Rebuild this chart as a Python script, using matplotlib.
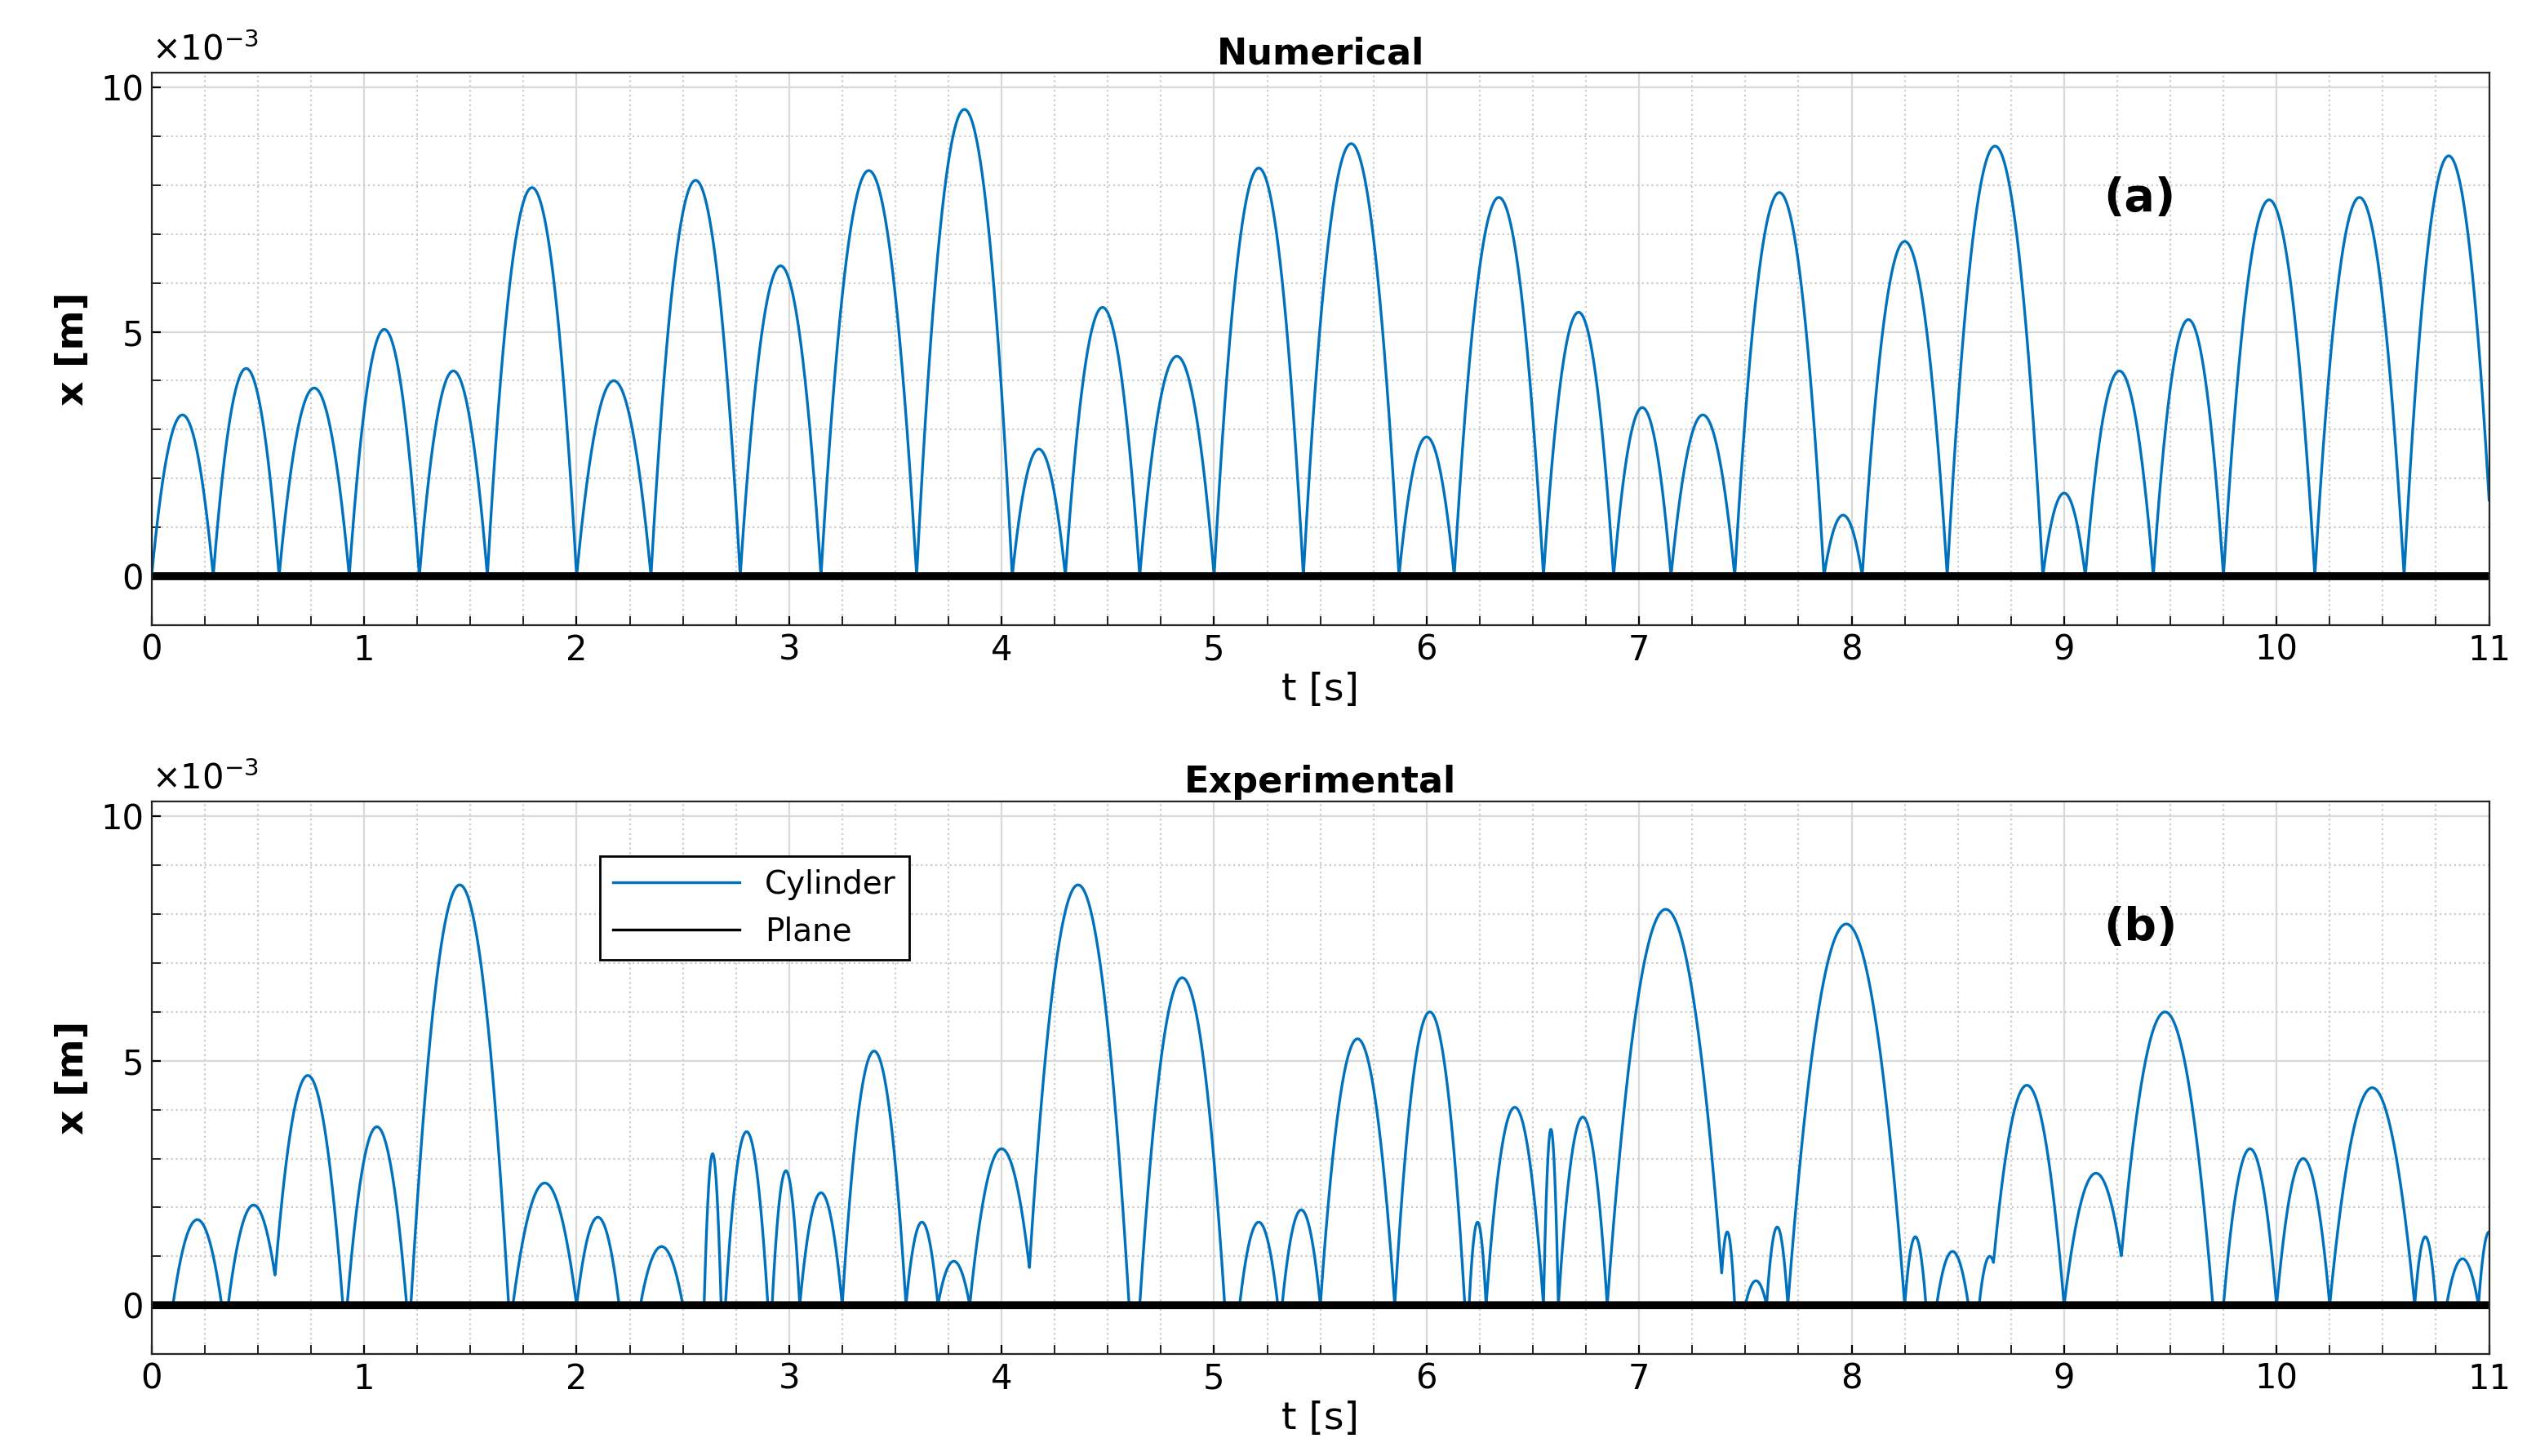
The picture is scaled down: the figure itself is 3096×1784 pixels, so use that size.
import matplotlib.pyplot as plt
from matplotlib.lines import Line2D
import numpy as np

t_end = 11.0
blue = '#0072BD'

# Numerical: impact times and peak heights (x1e-3 m)
num_impacts = [0, 0.29, 0.6, 0.93, 1.26, 1.58, 2.0, 2.35, 2.77, 3.15, 3.6, 4.05, 4.3,
               4.65, 5.0, 5.42, 5.87, 6.13, 6.55, 6.88, 7.15, 7.45, 7.87, 8.05, 8.45,
               8.9, 9.1, 9.42, 9.75, 10.18, 10.6, 11.02]
num_peaks = [3.3, 4.25, 3.85, 5.05, 4.2, 7.95, 4.0, 8.1, 6.35, 8.3, 9.55, 2.6, 5.5,
             4.5, 8.35, 8.85, 2.85, 7.75, 5.4, 3.45, 3.3, 7.85, 1.25, 6.85, 8.8,
             1.7, 4.2, 5.25, 7.7, 7.75, 8.6]

# Experimental: (start, end, peak x1e-3 m)
exp_arcs = [(0.1, 0.33, 1.75), (0.36, 0.6, 2.05), (0.57, 0.9, 4.7), (0.92, 1.2, 3.65),
            (1.22, 1.68, 8.6), (1.7, 2.0, 2.5), (2.0, 2.2, 1.8), (2.3, 2.5, 1.2),
            (2.6, 2.68, 3.1), (2.7, 2.9, 3.55), (2.92, 3.05, 2.75), (3.05, 3.25, 2.3),
            (3.25, 3.55, 5.2), (3.55, 3.7, 1.7), (3.7, 3.85, 0.9), (3.85, 4.15, 3.2),
            (4.12, 4.6, 8.6), (4.65, 5.05, 6.7), (5.12, 5.3, 1.7), (5.32, 5.5, 1.95),
            (5.5, 5.85, 5.45), (5.85, 6.18, 6.0), (6.2, 6.28, 1.7), (6.28, 6.55, 4.05),
            (6.55, 6.62, 3.6), (6.62, 6.85, 3.85), (6.85, 7.4, 8.1), (7.38, 7.45, 1.5),
            (7.5, 7.6, 0.5), (7.6, 7.7, 1.6), (7.7, 8.25, 7.8), (8.25, 8.35, 1.4),
            (8.4, 8.55, 1.1), (8.6, 8.7, 1.0), (8.65, 9.0, 4.5), (9.0, 9.3, 2.7),
            (9.25, 9.7, 6.0), (9.75, 10.0, 3.2), (10.0, 10.25, 3.0), (10.25, 10.65, 4.45),
            (10.65, 10.75, 1.4), (10.8, 10.95, 0.95), (10.95, 11.05, 1.5)]

t = np.linspace(0, t_end, 8000)


def arcs_curve(arcs):
    y = np.zeros_like(t)
    for a, b, h in arcs:
        m = (t >= a) & (t <= b)
        u = (t[m] - a) / (b - a)
        y[m] = np.maximum(y[m], 4 * h * u * (1 - u))
    return y


num_arcs = [(num_impacts[i], num_impacts[i + 1], num_peaks[i]) for i in range(len(num_peaks))]
y_num = arcs_curve(num_arcs)
y_exp = arcs_curve(exp_arcs)

fig, axes = plt.subplots(2, 1, figsize=(15.48, 8.92), dpi=200)
for ax, y, title, lab in zip(axes, [y_num, y_exp], ['Numerical', 'Experimental'], ['(a)', '(b)']):
    ax.plot(t, y, color=blue, lw=1.2)
    ax.plot(t, np.zeros_like(t), color='black', lw=3.5)
    ax.set_xlim(0, 11)
    ax.set_ylim(-1, 10.3)
    ax.set_xticks(range(12))
    ax.set_yticks([0, 5, 10])
    ax.set_xticks(np.arange(0, 11.01, 0.25), minor=True)
    ax.set_yticks(np.arange(-1, 10.3, 1), minor=True)
    ax.grid(which='major', color='#d9d9d9', lw=0.8)
    ax.grid(which='minor', color='#cccccc', ls=':', lw=0.8)
    ax.tick_params(labelsize=15, which='both', direction='in', length=4)
    ax.set_xlabel('t [s]', fontsize=17, labelpad=2)
    ax.set_ylabel('x [m]', fontsize=17, fontweight='bold')
    ax.set_title(title, fontsize=16, fontweight='bold', pad=4)
    ax.text(0, 1.01, r'$\times10^{-3}$', transform=ax.transAxes, fontsize=15, va='bottom')
    ax.text(0.835, 0.75, lab, transform=ax.transAxes, fontsize=20, fontweight='bold')
    for s in ax.spines.values():
        s.set_color('#262626')

handles = [Line2D([], [], color=blue, lw=1.2), Line2D([], [], color='black', lw=1.2)]
axes[1].legend(handles, ['Cylinder', 'Plane'], loc='upper left', bbox_to_anchor=(0.185, 0.93),
               fontsize=14, fancybox=False, edgecolor='black', framealpha=1, handlelength=4)
fig.subplots_adjust(left=0.06, right=0.985, top=0.95, bottom=0.07, hspace=0.32)
fig.savefig('out.png')
